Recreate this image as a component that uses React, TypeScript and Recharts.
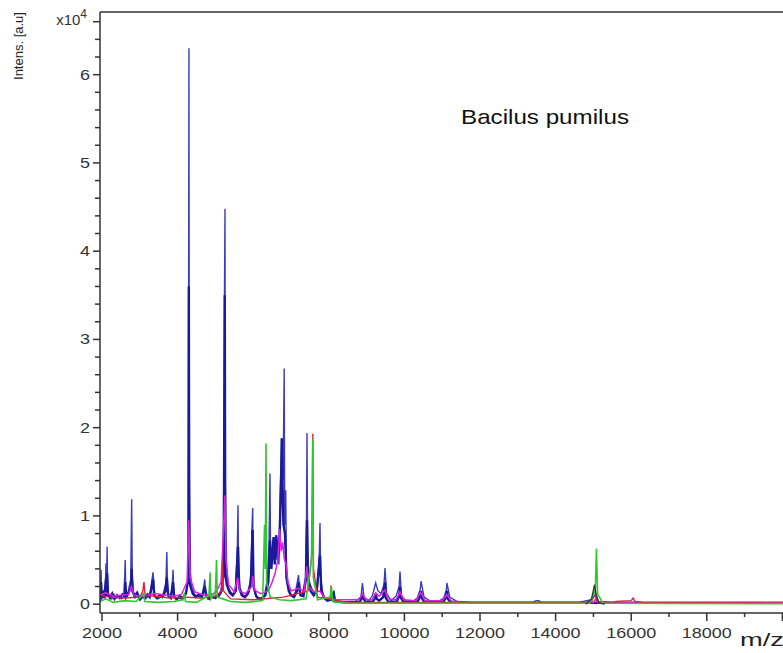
import React from 'react'
import { LineChart, Line, XAxis, YAxis, ReferenceLine } from 'recharts'

// spectra: [m/z, intensity]
// thin, lighter blue trace carrying the tallest peaks
const BLUE: [number, number][] = [
  [1950, 300], [1975, 3900], [1990, 600], [2040, 900], [2080, 700], [2105, 4600], [2118, 1200], [2135, 6500],
  [2150, 1300], [2200, 1000], [2260, 600], [2320, 1100], [2380, 700], [2450, 900], [2520, 600], [2580, 800],
  [2615, 5000], [2630, 1000], [2690, 1400], [2760, 2800], [2785, 11900], [2800, 3200], [2830, 1500], [2880, 700],
  [2950, 900], [3020, 500], [3080, 800], [3150, 600], [3220, 900], [3280, 1400], [3350, 3600], [3370, 2600],
  [3400, 900], [3480, 600], [3550, 800], [3620, 1200], [3690, 2400], [3715, 5900], [3735, 1500], [3790, 800],
  [3850, 1600], [3880, 3900], [3900, 1000], [3960, 500], [4030, 700], [4100, 600], [4170, 900], [4230, 1400],
  [4280, 3000], [4292, 36000], [4300, 63000], [4306, 36000], [4315, 14000], [4340, 3500], [4380, 1800], [4450, 1100],
  [4520, 800], [4600, 900], [4660, 1200], [4720, 2800], [4740, 1100], [4800, 600], [4870, 900], [4940, 700],
  [5010, 1000], [5080, 800], [5150, 1200], [5210, 4000], [5240, 35000], [5254, 44800], [5262, 14000], [5290, 4500],
  [5330, 2000], [5400, 1400], [5470, 1100], [5530, 1600], [5580, 6500], [5598, 11200], [5612, 4000], [5650, 1800],
  [5720, 1100], [5800, 900], [5880, 1300], [5940, 3500], [5965, 8400], [5987, 10900], [6000, 3000], [6040, 1300],
  [6100, 700], [6180, 500], [6250, 600], [6310, 1200], [6380, 3000], [6420, 7200], [6444, 14800], [6460, 4500],
  [6510, 5500], [6540, 7600], [6560, 5000], [6600, 7800], [6640, 7000], [6680, 4500], [6720, 14000], [6760, 18800],
  [6790, 14000], [6820, 26700], [6835, 9000], [6860, 12900], [6880, 4000], [6920, 2000], [6980, 1200], [7050, 900],
  [7120, 1400], [7200, 3300], [7230, 1200], [7300, 1000], [7380, 3000], [7410, 9500], [7423, 19400], [7440, 6000],
  [7480, 2500], [7550, 1800], [7620, 1200], [7700, 2000], [7750, 6000], [7767, 9200], [7785, 3000], [7850, 1000],
  [7950, 500], [8050, 600], [8130, 1500], [8160, 400], [8300, 300], [8500, 200], [8700, 300], [8850, 800],
  [8890, 2400], [8930, 800], [9050, 400], [9150, 900], [9240, 2400], [9300, 1500], [9380, 1200], [9460, 2200],
  [9487, 4100], [9530, 1200], [9650, 400], [9780, 900], [9860, 2000], [9884, 3700], [9920, 1000], [10050, 300],
  [10200, 200], [10340, 700], [10420, 1700], [10440, 2600], [10520, 800], [10700, 300], [10900, 300], [11040, 700],
  [11110, 1600], [11125, 2400], [11200, 800], [11400, 300], [11800, 200], [12500, 200], [13400, 200], [13480, 400],
  [13560, 400], [13620, 200], [14600, 200], [14950, 500], [15050, 1000], [15120, 300], [15500, 200], [17000, 200],
  [20100, 200],
]

// heavier navy trace: the thick lower parts of the peaks and the noisy baseline
const NAVY: [number, number][] = [
  [1950, 600], [1975, 2500], [1995, 800], [2030, 1200], [2060, 700], [2105, 2800], [2120, 900], [2135, 3500],
  [2160, 1100], [2210, 700], [2270, 1200], [2330, 600], [2400, 1000], [2470, 700], [2540, 1100], [2600, 900],
  [2615, 2500], [2640, 800], [2700, 1200], [2770, 2000], [2785, 4000], [2805, 1500], [2860, 900], [2930, 1300],
  [3000, 600], [3060, 1000], [3130, 700], [3200, 1100], [3260, 800], [3350, 2800], [3380, 1000], [3450, 700],
  [3520, 1000], [3600, 800], [3680, 1500], [3715, 3000], [3750, 1000], [3820, 700], [3880, 2500], [3910, 800],
  [3980, 600], [4060, 900], [4140, 700], [4220, 1200], [4270, 2500], [4288, 3000], [4297, 36000], [4306, 3000],
  [4340, 2000], [4400, 1200], [4480, 800], [4560, 1100], [4640, 800], [4720, 2000], [4760, 900], [4840, 600],
  [4920, 900], [5000, 700], [5080, 1000], [5160, 1500], [5220, 3500], [5248, 35000], [5262, 3500], [5300, 2200],
  [5380, 1300], [5460, 1000], [5540, 1500], [5598, 6500], [5630, 1800], [5700, 1000], [5780, 800], [5860, 1200],
  [5940, 2500], [5985, 8400], [6010, 2000], [6080, 900], [6160, 600], [6240, 700], [6320, 1000], [6400, 2500],
  [6444, 7200], [6480, 4000], [6540, 7600], [6570, 4500], [6610, 7800], [6650, 5000], [6700, 8000], [6740, 14000],
  [6755, 18800], [6775, 14000], [6800, 9000], [6840, 8000], [6880, 3000], [6940, 1500], [7000, 1000], [7080, 800],
  [7160, 1500], [7210, 2500], [7250, 1000], [7330, 900], [7400, 3000], [7423, 9500], [7450, 3000], [7520, 1500],
  [7600, 1000], [7680, 1500], [7767, 5500], [7800, 1500], [7880, 700], [7960, 400], [8060, 500], [8130, 1200],
  [8170, 300], [8400, 200], [8820, 250], [8870, 700], [8890, 1200], [8920, 600], [8980, 250], [9170, 300],
  [9220, 700], [9240, 1200], [9270, 600], [9330, 400], [9440, 800], [9487, 2500], [9510, 700], [9580, 250],
  [9800, 300], [9860, 900], [9884, 2000], [9910, 700], [9980, 250], [10350, 300], [10410, 800], [10440, 1500],
  [10470, 600], [10540, 200], [11040, 300], [11100, 800], [11125, 1500], [11150, 600], [11230, 200], [11500, 150],
  [20100, 150],
]

const MAGENTA: [number, number][] = [
  [1950, 1000], [2100, 1300], [2300, 900], [2500, 1000], [2700, 1100], [2780, 2000], [2850, 1000], [3100, 900],
  [3400, 1200], [3700, 1000], [3900, 900], [4100, 1100], [4250, 2500], [4295, 9500], [4330, 3000], [4450, 1400],
  [4700, 1000], [5000, 1200], [5150, 2500], [5230, 10000], [5250, 12300], [5280, 5000], [5350, 2200], [5500, 1400],
  [5590, 3000], [5640, 1500], [5800, 1200], [5960, 2000], [5987, 3200], [6030, 1600], [6200, 1200], [6400, 1500],
  [6500, 2500], [6580, 3500], [6650, 5000], [6700, 8500], [6740, 6000], [6780, 7000], [6820, 5200], [6870, 4500],
  [6920, 2500], [7000, 1500], [7200, 1800], [7350, 1500], [7420, 4300], [7460, 2000], [7600, 1400], [7760, 1500],
  [7900, 700], [8200, 500], [8800, 500], [8890, 1200], [8980, 500], [9150, 500], [9240, 1300], [9330, 900],
  [9400, 1200], [9487, 1600], [9560, 600], [9780, 500], [9884, 1400], [9980, 500], [10300, 400], [10430, 1300],
  [10550, 400], [11000, 400], [11120, 1100], [11230, 400], [11500, 200], [15000, 200], [15060, 600], [15120, 200],
  [20100, 150],
]

const RED: [number, number][] = [
  [1950, 1000], [2200, 800], [2600, 700], [3000, 800], [3080, 1500], [3110, 2500], [3140, 1000], [3400, 900],
  [3800, 700], [4200, 800], [4600, 700], [5000, 900], [5170, 1500], [5190, 4800], [5215, 1500], [5400, 600],
  [6000, 500], [6800, 800], [7450, 1500], [7560, 6000], [7578, 19300], [7595, 4000], [7700, 800], [8040, 600],
  [8060, 2100], [8080, 500], [8500, 200], [14950, 200], [15040, 1600], [15100, 300], [15500, 200], [15600, 300],
  [16000, 400], [16050, 700], [16100, 300], [16300, 200], [20100, 100],
]

const GREEN: [number, number][] = [
  [1950, 300], [2100, 600], [2300, 200], [2600, 400], [2900, 300], [3100, 1200], [3130, 300], [3500, 200],
  [3900, 300], [4150, 500], [4180, 1300], [4210, 300], [4500, 200], [4830, 1000], [4860, 3600], [4880, 600],
  [5000, 1500], [5030, 5000], [5050, 800], [5400, 300], [5800, 200], [6250, 400], [6300, 9000], [6320, 4000],
  [6339, 18200], [6355, 2500], [6450, 800], [6700, 500], [7000, 400], [7400, 600], [7540, 5000], [7574, 18700],
  [7590, 3000], [7700, 500], [8040, 800], [8070, 2000], [8100, 300], [8500, 100], [14900, 100], [15050, 1500],
  [15080, 6300], [15110, 1200], [15250, 100], [20100, 50],
]

const BLACK: [number, number][] = [
  [14800, 0], [14950, 600], [15030, 2200], [15070, 1200], [15150, 100], [15300, 0],
]

const X_TICKS = [2000, 3000, 4000, 5000, 6000, 7000, 8000, 9000, 10000, 11000, 12000, 13000, 14000, 15000, 16000, 17000, 18000, 19000, 20000]
const X_LABELED = [2000, 4000, 6000, 8000, 10000, 12000, 14000, 16000, 18000]
const Y_TICKS = [0, 2000, 4000, 6000, 8000, 10000, 12000, 14000, 16000, 18000, 20000, 22000, 24000, 26000, 28000, 30000, 32000, 34000, 36000, 38000, 40000, 42000, 44000, 46000, 48000, 50000, 52000, 54000, 56000, 58000, 60000, 62000, 64000, 66000]
const Y_LABELS: Record<number, string> = { 0: '0', 10000: '1', 20000: '2', 30000: '3', 40000: '4', 50000: '5', 60000: '6' }

const FONT = '"Liberation Sans", Arial, sans-serif'
const INK = '#333'

const toRows = (s: [number, number][]) => s.map(([mz, i]) => ({ mz, i }))

function XTick({ x, payload }: any) {
  const v = payload.value
  const major = v % 2000 === 0
  const label = X_LABELED.includes(v)
  return (
    <g>
      <line x1={x} x2={x} y1={613} y2={major ? 621 : 617} stroke={INK} strokeWidth={1.5} />
      {label && (
        <text x={x} y={638} textAnchor="middle" fontSize={15} fill={INK} fontFamily={FONT}
          textLength={String(v).length * 10} lengthAdjust="spacingAndGlyphs">{v}</text>
      )}
    </g>
  )
}

function YTick({ y, payload }: any) {
  const v = payload.value
  const label = Y_LABELS[v]
  const major = label !== undefined || v === 66000
  return (
    <g>
      <line x1={major ? 93 : 95} x2={100} y1={y} y2={y} stroke={INK} strokeWidth={1.5} />
      {label && (
        <text x={90} y={y + 5} textAnchor="end" fontSize={15} fill={INK} fontFamily={FONT}
          textLength={10} lengthAdjust="spacingAndGlyphs">{label}</text>
      )}
      {v === 66000 && (
        <text x={87} y={y + 3} textAnchor="end" fontSize={15} fill={INK} fontFamily={FONT}>
          x10<tspan dy={-7} fontSize={12}>4</tspan>
        </text>
      )}
    </g>
  )
}

export default function App() {
  return (
    <div style={{ position: 'absolute', left: 0, top: 0, width: 783, height: 653, overflow: 'hidden', background: '#fff' }}>
      <LineChart width={900} height={653} margin={{ top: 12, right: 0, bottom: 0, left: 0 }}>
        <XAxis type="number" dataKey="mz" domain={[1947, 23111]} ticks={X_TICKS} interval={0}
          height={40} tick={<XTick />} tickLine={false} axisLine={{ stroke: INK, strokeWidth: 1.5 }} allowDataOverflow />
        <YAxis type="number" domain={[-1000, 67100]} ticks={Y_TICKS} interval={0} width={100}
          tick={<YTick />} tickLine={false} axisLine={{ stroke: INK, strokeWidth: 1.5 }} allowDataOverflow />
        <ReferenceLine y={67100} stroke={INK} strokeWidth={1.5} />
        <Line data={toRows(BLUE)} dataKey="i" type="linear" stroke="#3c3cb8" strokeWidth={1.4} dot={false} isAnimationActive={false} />
        <Line data={toRows(NAVY)} dataKey="i" type="linear" stroke="#1a1a9a" strokeWidth={2.4} dot={false} isAnimationActive={false} />
        <Line data={toRows(MAGENTA)} dataKey="i" type="linear" stroke="#e41ce4" strokeWidth={1.5} dot={false} isAnimationActive={false} />
        <Line data={toRows(RED)} dataKey="i" type="linear" stroke="#e4203c" strokeWidth={1.4} dot={false} isAnimationActive={false} />
        <Line data={toRows(GREEN)} dataKey="i" type="linear" stroke="#30c830" strokeWidth={1.6} dot={false} isAnimationActive={false} />
        <Line data={toRows(BLACK)} dataKey="i" type="linear" stroke="#333" strokeWidth={1.3} dot={false} isAnimationActive={false} />
      </LineChart>
      <svg width={783} height={653} style={{ position: 'absolute', left: 0, top: 0, pointerEvents: 'none' }}>
        <text transform="translate(23,46) rotate(-90)" textAnchor="middle" fontSize={13} fill="#222"
          fontFamily={FONT}>Intens. [a.u]</text>
        <text x={461} y={124} fontSize={21} fill="#111" fontFamily={FONT}
          textLength={168} lengthAdjust="spacingAndGlyphs">Bacilus pumilus</text>
        <text x={740} y={646} fontSize={19} fill="#222" fontFamily={FONT}
          textLength={44} lengthAdjust="spacingAndGlyphs">m/z</text>
      </svg>
    </div>
  )
}
